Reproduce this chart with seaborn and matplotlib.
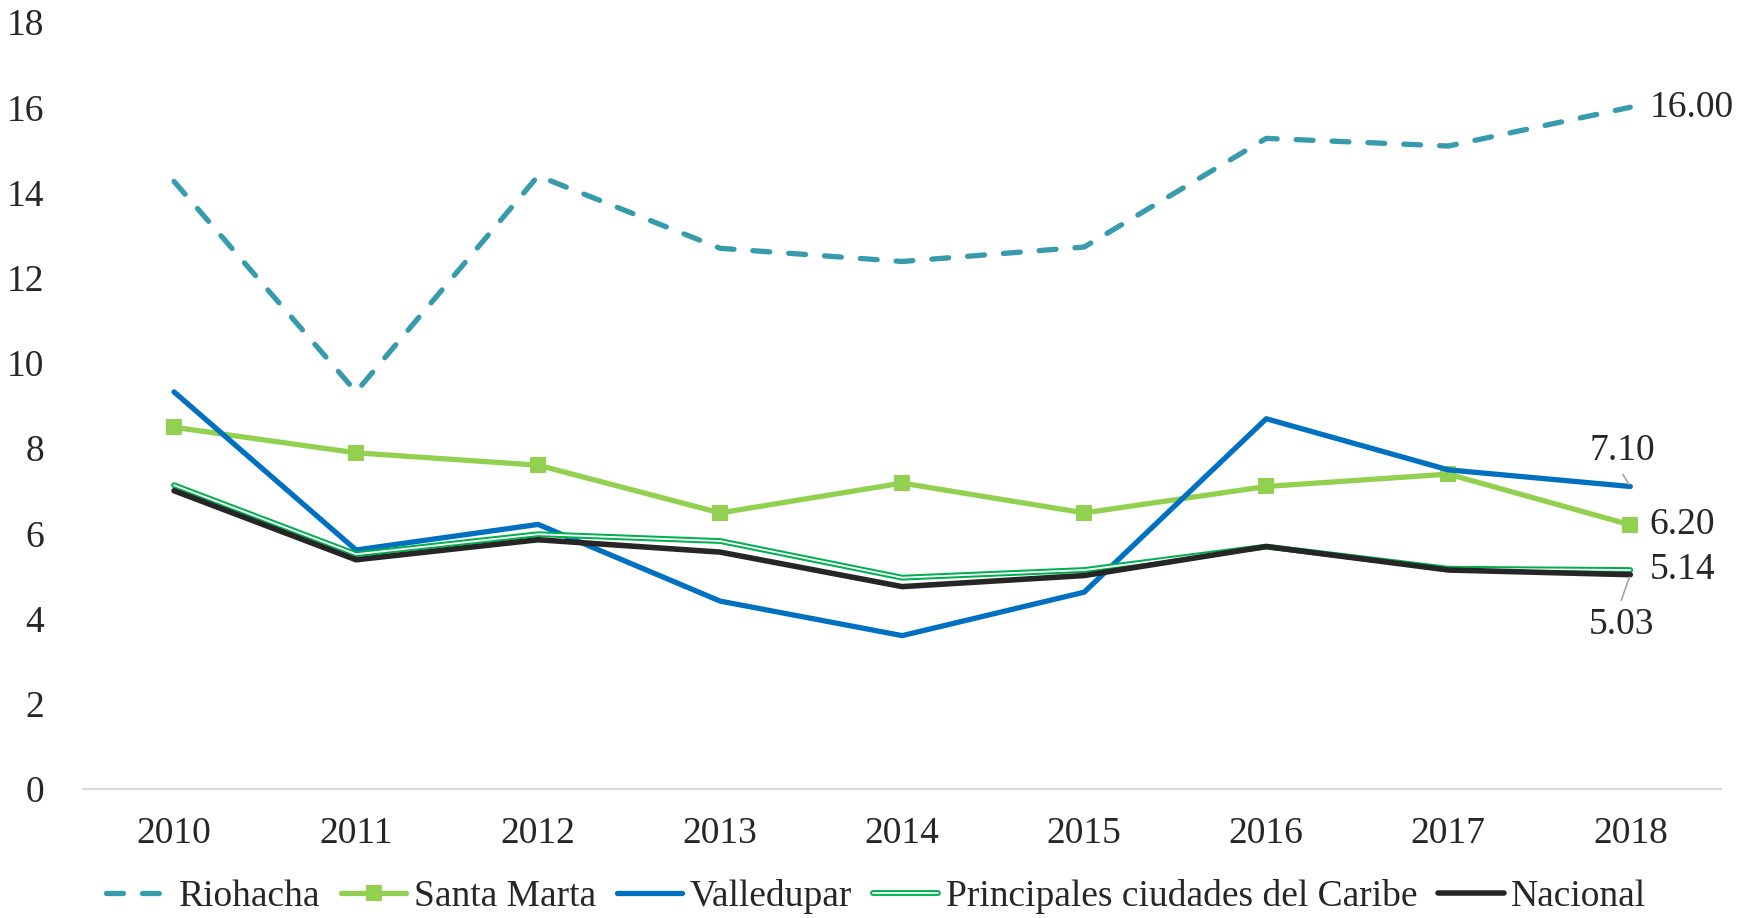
import matplotlib
matplotlib.use("Agg")
import matplotlib.pyplot as plt
import matplotlib.patheffects as pe
import seaborn as sns

years = [2010, 2011, 2012, 2013, 2014, 2015, 2016, 2017, 2018]
riohacha = [14.26, 9.32, 14.39, 12.69, 12.38, 12.72, 15.27, 15.09, 16.00]
santa_marta = [8.49, 7.89, 7.60, 6.48, 7.18, 6.48, 7.10, 7.39, 6.20]
valledupar = [9.32, 5.61, 6.21, 4.41, 3.60, 4.62, 8.69, 7.49, 7.10]
principales = [7.13, 5.51, 5.98, 5.82, 4.96, 5.14, 5.69, 5.17, 5.14]
nacional = [7.00, 5.38, 5.85, 5.56, 4.75, 5.01, 5.69, 5.14, 5.03]

sns.set_style("white")
plt.rcParams['font.family'] = ['Liberation Serif', 'DejaVu Serif']

fig = plt.figure(figsize=(17.44, 9.18), dpi=100)
ax = fig.add_axes([0.0476, 0.1405, 0.9394, 0.8355])

sns.lineplot(x=years, y=riohacha, ax=ax, color="#379BAE", lw=3.8,
             dashes=False, label="Riohacha", linestyle=(0, (3.2, 3.6)),
             dash_capstyle="round")
sns.lineplot(x=years, y=santa_marta, ax=ax, color="#92D050", lw=3.8,
             marker="s", markersize=11, markeredgewidth=0, label="Santa Marta")
sns.lineplot(x=years, y=valledupar, ax=ax, color="#0070C0", lw=3.8,
             label="Valledupar", solid_capstyle="round")
sns.lineplot(x=years, y=principales, ax=ax, color="white", lw=1.3,
             label="Principales ciudades del Caribe", solid_capstyle="round",
             path_effects=[pe.Stroke(linewidth=4.2, foreground="#00B050"), pe.Normal()])
sns.lineplot(x=years, y=nacional, ax=ax, color="#262626", lw=4.0,
             label="Nacional", solid_capstyle="round")

ax.set_xlim(2009.5, 2018.5)
ax.set_ylim(0, 18)
ax.set_xticks(years)
ax.set_yticks(range(0, 19, 2))
ax.tick_params(axis='both', labelsize=27, colors="#262626", length=0)
ax.tick_params(axis='y', pad=28)
ax.tick_params(axis='x', pad=20)
for s in ["top", "right", "left"]:
    ax.spines[s].set_visible(False)
ax.spines["bottom"].set_color("#D9D9D9")
ax.spines["bottom"].set_linewidth(1.5)

# end labels
lab = dict(fontsize=27, color="#262626")
lead = dict(arrowstyle="-", color="#A6A6A6", lw=1.2, shrinkA=3, shrinkB=2)
ax.annotate("16.00", (2018, riohacha[-1]), xytext=(14, 0), textcoords="offset points",
            ha="left", va="center", **lab)
ax.annotate("7.10", (2018, valledupar[-1]), xytext=(-6, 26), textcoords="offset points",
            ha="center", va="center", arrowprops=dict(relpos=(0.45, 0), **lead), **lab)
ax.annotate("6.20", (2018, santa_marta[-1]), xytext=(14, 0), textcoords="offset points",
            ha="left", va="center", **lab)
ax.annotate("5.14", (2018, principales[-1]), xytext=(14, 0), textcoords="offset points",
            ha="left", va="center", **lab)
ax.annotate("5.03", (2018, nacional[-1]), xytext=(-6, -36), textcoords="offset points",
            ha="center", va="center", arrowprops=dict(relpos=(0.45, 1), **lead), **lab)

ax.legend(loc="center", bbox_to_anchor=(0.484, -0.14), ncol=5, frameon=False,
          fontsize=27, handlelength=1.75, handletextpad=0.2, columnspacing=0.55,
          labelcolor="#262626")

fig.savefig("out.png", dpi=100)
